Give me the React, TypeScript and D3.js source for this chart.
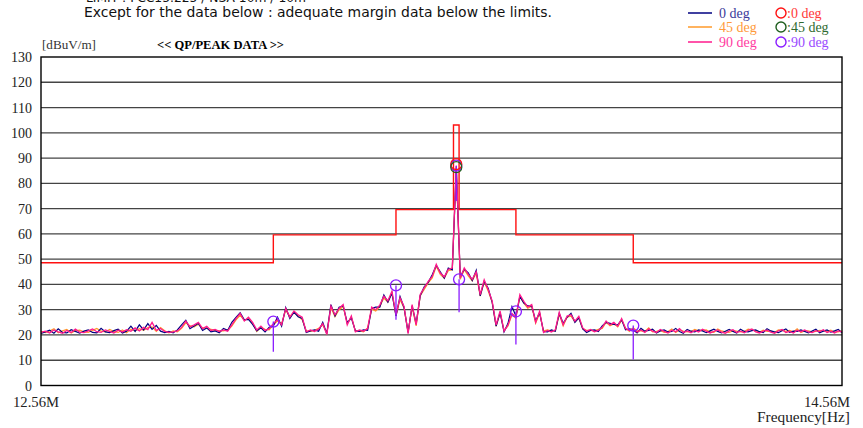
import React from "react";
import * as d3 from "d3";

// ---------- data ----------
const FREQ_START = 12.56; // MHz
const FREQ_STOP = 14.56;
const FREQ_STEP = 0.01;
const Y_TICKS = [0, 10, 20, 30, 40, 50, 60, 70, 80, 90, 100, 110, 120, 130];

// 0 deg (navy)
const DEG0 = [
  20.6, 21.2, 21.9, 20.7, 22.4, 21.0, 20.8, 22.1, 21.4, 20.7, 21.5,
  22.0, 21.0, 20.8, 22.6, 21.2, 20.9, 21.7, 22.3, 20.8, 21.5,
  23.5, 21.4, 24.0, 22.0, 24.5, 22.2, 23.8, 21.5, 20.9, 21.4,
  20.8, 22.0, 24.0, 25.8, 22.5, 23.5, 24.6, 21.8, 22.8, 21.2,
  21.6, 20.9, 22.6, 21.8, 25.0, 27.0, 28.8, 26.0, 26.2, 24.2,
  21.6, 22.8, 21.2, 23.0, 23.5, 27.0, 23.5, 30.8, 26.5, 29.0,
  27.2, 26.5, 21.0, 21.6, 22.0, 21.5, 25.0, 20.5, 32.0, 27.5,
  31.0, 31.5, 24.8, 26.8, 21.6, 21.4, 22.0, 21.8, 30.5, 31.0,
  31.0, 35.8, 33.0, 36.5, 27.5, 35.2, 30.8, 21.0, 31.5, 24.5,
  35.5, 39.0, 40.8, 43.8, 47.5, 45.0, 42.5, 46.5, 45.8, 86.0,
  43.0, 46.0, 44.6, 41.5, 45.6, 35.5, 41.2, 38.5, 33.0, 23.5,
  28.8, 21.2, 24.6, 31.2, 27.5, 35.2, 32.6, 31.5, 31.4, 25.6,
  28.8, 21.4, 21.2, 22.0, 21.5, 28.5, 24.6, 27.0, 28.6, 25.0,
  26.8, 22.4, 21.0, 21.8, 22.0, 21.4, 23.6, 25.0, 24.6, 24.2,
  24.0, 26.0, 22.0, 22.4, 22.0, 20.8, 22.6, 21.5, 21.8, 22.3,
  20.8, 21.6, 22.0, 21.2, 21.4, 22.6, 21.4, 20.7, 22.2, 21.5,
  21.2, 22.0, 21.6, 20.9, 21.6, 22.3, 21.4, 20.8, 21.5, 22.2,
  21.4, 20.8, 22.3, 21.4, 21.2, 21.7, 22.0, 21.3, 20.9, 22.5,
  21.6, 21.2, 20.9, 21.7, 22.4, 21.0, 21.5, 21.4, 22.0, 21.4,
  20.8, 21.6, 22.3, 20.9, 21.5, 22.0, 21.1, 21.6, 22.2, 20.9,
];

// 45 deg (orange)
const DEG45 = [
  21.4, 20.9, 21.6, 22.5, 20.9, 21.6, 22.2, 20.8, 21.7, 21.9, 21.2,
  21.0, 21.8, 22.6, 21.5, 21.2, 22.2, 21.4, 21.0, 22.0, 20.9,
  22.3, 21.6, 22.5, 21.8, 22.9, 23.2, 21.4, 22.9, 21.7, 20.8,
  21.6, 21.2, 22.6, 24.8, 23.6, 23.2, 24.2, 22.8, 22.6, 22.2,
  21.8, 21.6, 21.6, 22.0, 23.5, 26.0, 27.8, 25.8, 26.5, 24.6,
  21.4, 23.0, 22.2, 22.0, 24.0, 25.5, 24.5, 29.8, 27.4, 28.8,
  27.5, 26.0, 21.6, 21.4, 21.8, 22.6, 24.0, 20.8, 30.8, 27.2,
  30.0, 31.2, 24.5, 27.0, 21.6, 21.6, 21.2, 22.8, 30.2, 29.5,
  31.2, 34.6, 33.0, 36.8, 27.6, 34.0, 30.6, 21.2, 31.0, 23.6,
  35.4, 38.0, 40.6, 42.6, 47.2, 44.0, 42.4, 45.4, 45.8, 86.5,
  42.0, 45.8, 43.4, 41.4, 44.4, 35.4, 41.0, 37.4, 33.0, 23.4,
  28.8, 21.8, 23.6, 28.0, 26.6, 35.2, 32.6, 30.6, 31.4, 24.6,
  28.6, 21.6, 22.0, 21.6, 21.6, 28.2, 23.6, 27.0, 27.4, 25.2,
  26.8, 22.4, 21.8, 21.8, 21.6, 22.2, 22.6, 25.0, 23.6, 24.4,
  23.2, 25.8, 22.8, 21.4, 22.8, 21.6, 21.6, 21.4, 22.8, 21.2,
  21.4, 21.8, 21.0, 21.4, 22.4, 21.0, 22.0, 21.5, 21.2, 21.4,
  22.2, 21.6, 21.8, 22.0, 21.2, 21.0, 22.4, 21.6, 21.2, 21.0,
  21.6, 21.5, 21.2, 21.4, 22.3, 22.0, 21.6, 21.2, 21.9, 21.4,
  21.5, 21.0, 22.0, 21.8, 21.4, 21.8, 21.2, 22.4, 21.0, 21.6,
  21.6, 21.2, 21.4, 21.8, 21.6, 21.4, 21.9, 21.2, 21.2, 21.6,
];

// 90 deg (pink)
const DEG90 = [
  21.0, 21.5, 20.8, 22.0, 21.2, 20.7, 21.8, 21.0, 22.3, 21.1, 20.9,
  21.6, 22.4, 21.3, 21.0, 22.0, 21.4, 20.8, 21.9, 21.2, 22.1,
  21.5, 22.8, 21.6, 23.0, 22.1, 25.0, 21.8, 22.6, 21.4, 21.0,
  21.2, 21.6, 23.0, 25.5, 23.2, 24.0, 25.0, 22.5, 23.4, 21.8,
  22.2, 21.4, 22.0, 21.5, 24.0, 26.5, 28.5, 25.5, 27.0, 25.0,
  22.0, 23.5, 21.8, 22.5, 24.5, 26.0, 24.0, 30.5, 27.0, 29.5,
  28.0, 27.0, 21.2, 22.0, 21.4, 22.3, 24.5, 20.2, 31.5, 28.0,
  30.5, 32.0, 24.0, 27.5, 21.2, 22.0, 21.5, 22.5, 31.0, 30.0,
  31.8, 35.3, 33.5, 37.3, 28.0, 34.7, 31.3, 20.5, 32.0, 24.0,
  36.0, 38.6, 41.2, 43.2, 48.0, 44.5, 43.0, 46.0, 46.5, 87.0,
  42.5, 46.5, 44.0, 42.0, 45.0, 36.0, 41.8, 38.0, 33.5, 24.0,
  29.5, 21.5, 24.0, 28.5, 27.0, 36.0, 33.3, 31.0, 32.0, 25.0,
  29.4, 21.0, 21.8, 21.2, 22.0, 29.0, 24.0, 27.5, 28.0, 25.5,
  27.4, 22.8, 21.5, 22.2, 21.3, 21.8, 23.0, 25.5, 24.0, 25.0,
  23.5, 26.5, 22.5, 21.8, 22.5, 21.2, 22.0, 21.0, 22.4, 21.5,
  21.0, 22.2, 21.4, 20.8, 21.9, 21.3, 22.5, 21.0, 21.6, 20.9,
  21.8, 21.2, 22.3, 21.5, 20.8, 21.4, 22.0, 21.1, 20.7, 21.6,
  22.1, 21.0, 21.5, 20.9, 21.8, 22.4, 21.2, 20.8, 21.5, 21.9,
  21.1, 20.7, 21.6, 22.2, 21.0, 21.4, 20.8, 21.9, 21.3, 22.0,
  21.2, 20.9, 21.7, 21.3, 22.1, 21.0, 21.5, 20.8, 21.6, 21.2,
];

// limit (band start, band end, dBuV/m)
const LIMIT_START = [12.56, 13.11, 13.41, 13.553, 13.567, 13.71, 14.01];
const LIMIT_END = [13.11, 13.41, 13.553, 13.567, 13.71, 14.01, 14.56];
const LIMIT_LEVEL = [48.6, 59.6, 69.6, 103.1, 69.6, 59.6, 48.6];

// QP/peak markers (90 deg)
const MARK_FREQ = [13.11, 13.41, 13.56, 13.567, 13.71, 14.01];
const MARK_LEVEL = [25.3, 39.6, 87.0, 42.0, 29.3, 23.7];
const MARK_STEM = [13.4, 26.0, 73.0, 29.0, 16.2, 10.3];
// extra markers at carrier for 0 / 45 deg
const CARRIER_0 = 87.6;
const CARRIER_45 = 86.4;

// ---------- layout ----------
const W = 863;
const H = 428;
const X0 = 41;
const X1 = 842;
const Y0 = 385.5;
const Y1 = 57;

const NAVY = "#000080";
const ORANGE = "#ff9a2a";
const PINK = "#ff1a8c";
const RED = "#ff1010";
const GREEN = "#1f5f1f";
const PURPLE = "#8a1cff";

export default function App() {
  const x = d3.scaleLog().domain([FREQ_START, FREQ_STOP]).range([X0, X1]);
  const y = d3.scaleLinear().domain([0, 130]).range([Y0, Y1]);

  const n = Math.round((FREQ_STOP - FREQ_START) / FREQ_STEP) + 1;
  const freqs = d3.range(n).map((i) => +(FREQ_START + i * FREQ_STEP).toFixed(3));

  const line = d3
    .line<number>()
    .x((_, i) => x(freqs[i]))
    .y((v) => y(v));

  let limitPath = "";
  LIMIT_LEVEL.forEach((lv, i) => {
    const xa = x(LIMIT_START[i]);
    const xb = x(LIMIT_END[i]);
    limitPath += (i === 0 ? "M" : "L") + xa + "," + y(lv) + "L" + xb + "," + y(lv);
  });

  const serif = "'Liberation Serif', 'DejaVu Serif', serif";
  const gothic = "'Liberation Sans Narrow', 'DejaVu Sans Condensed', 'Liberation Sans', sans-serif";

  return (
    <svg
      width={W}
      height={H}
      style={{ position: "absolute", left: 0, top: 0, background: "#fff" }}
    >
      <rect x={0} y={0} width={W} height={H} fill="#fff" />
      {/* header */}
      <text x={86} y={2} fontFamily={gothic} fontSize={12} fill="#111" textLength={220} lengthAdjust="spacingAndGlyphs">
        LIMIT :  FCC15.225 / NSA 10m / 10m
      </text>
      <text x={84} y={17} fontFamily={gothic} fontSize={14} fill="#111" textLength={468} lengthAdjust="spacingAndGlyphs">
        Except for the  data below : adequate margin data below the limits.
      </text>
      <text x={42} y={49} fontFamily={serif} fontSize={13} fill="#333" textLength={54} lengthAdjust="spacingAndGlyphs">[dBuV/m]</text>
      <text x={157} y={49} fontFamily={serif} fontSize={13} fontWeight="bold" fill="#000" textLength={127} lengthAdjust="spacingAndGlyphs">
        {"<< QP/PEAK DATA >>"}
      </text>

      {/* legend */}
      {[
        { label: "0 deg", color: NAVY, text: "#3a3a9a", yy: 13 },
        { label: "45 deg", color: ORANGE, text: "#ff9a3a", yy: 27 },
        { label: "90 deg", color: PINK, text: "#ff3aa0", yy: 42 },
      ].map((d, i) => (
        <g key={"l" + i}>
          <line x1={688} x2={712} y1={d.yy} y2={d.yy} stroke={d.color} strokeWidth={1.5} />
          <text x={719} y={d.yy + 5} fontFamily={serif} fontSize={14} fill={d.text}>{d.label}</text>
        </g>
      ))}
      {[
        { label: ":0 deg", color: RED, text: "#ff3a3a", yy: 13 },
        { label: ":45 deg", color: GREEN, text: "#2f6a2f", yy: 27 },
        { label: ":90 deg", color: PURPLE, text: "#9a4aff", yy: 42 },
      ].map((d, i) => (
        <g key={"m" + i}>
          <circle cx={781} cy={d.yy} r={5} fill="none" stroke={d.color} strokeWidth={1.4} />
          <text x={787} y={d.yy + 5} fontFamily={serif} fontSize={14} fill={d.text}>{d.label}</text>
        </g>
      ))}

      {/* grid */}
      {Y_TICKS.filter((t) => t > 0 && t < 130).map((t) => (
        <line key={"g" + t} x1={X0} x2={X1} y1={y(t)} y2={y(t)} stroke="#444" strokeWidth={1.3} />
      ))}
      {/* y tick labels */}
      {Y_TICKS.map((t) => (
        <text key={"t" + t} x={32} y={y(t) + 5} textAnchor="end" fontFamily={serif} fontSize={14} fill="#222">
          {t}
        </text>
      ))}

      {/* limit */}
      <path d={limitPath} fill="none" stroke={RED} strokeWidth={1.4} />

      {/* spectra */}
      <path d={line(DEG45) || ""} fill="none" stroke={ORANGE} strokeWidth={1.2} />
      <path d={line(DEG0) || ""} fill="none" stroke={NAVY} strokeWidth={1.2} />
      <path d={line(DEG90) || ""} fill="none" stroke={PINK} strokeWidth={1.3} />

      {/* markers */}
      {MARK_FREQ.map((f, i) => (
        <g key={"k" + i}>
          <line x1={x(f)} x2={x(f)} y1={y(MARK_LEVEL[i])} y2={y(MARK_STEM[i])} stroke={PURPLE} strokeWidth={1.3} />
          <circle cx={x(f)} cy={y(MARK_LEVEL[i])} r={5.5} fill="none" stroke={PURPLE} strokeWidth={1.3} />
        </g>
      ))}
      <circle cx={x(13.56)} cy={y(CARRIER_0)} r={5.5} fill="none" stroke={RED} strokeWidth={1.2} />
      <circle cx={x(13.56)} cy={y(CARRIER_45)} r={5.5} fill="none" stroke={GREEN} strokeWidth={1.2} />

      {/* frame */}
      <rect x={X0} y={Y1} width={X1 - X0} height={Y0 - Y1} fill="none" stroke="#000" strokeWidth={1.4} />

      {/* x labels */}
      <text x={13} y={407} fontFamily={serif} fontSize={14} fill="#222" textLength={46} lengthAdjust="spacingAndGlyphs">12.56M</text>
      <text x={850} y={407} textAnchor="end" fontFamily={serif} fontSize={14} fill="#222" textLength={46} lengthAdjust="spacingAndGlyphs">14.56M</text>
      <text x={850} y={422} textAnchor="end" fontFamily={serif} fontSize={14} fill="#222" textLength={93} lengthAdjust="spacingAndGlyphs">Frequency[Hz]</text>
    </svg>
  );
}
